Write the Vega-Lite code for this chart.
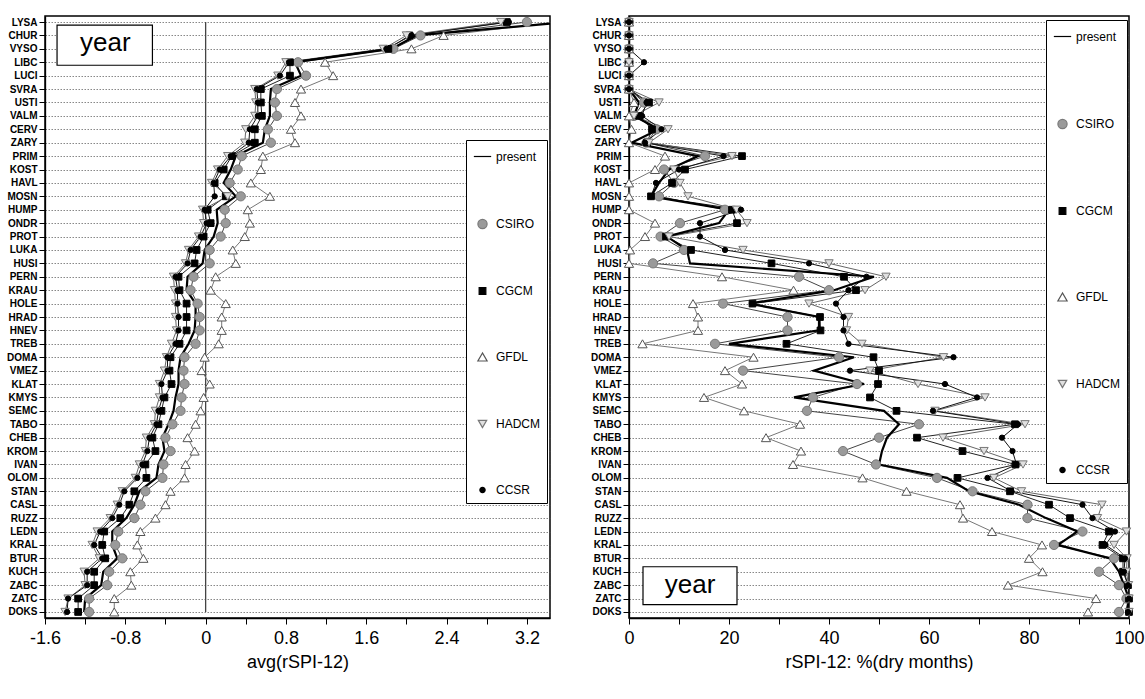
{
  "$schema": "https://vega.github.io/schema/vega-lite/v6.json",
  "padding": {"left": 5, "top": 14, "right": 5, "bottom": 5},
  "background": "white",
  "spacing": 38,
  "datasets": {
    "avg": [
      {"s":"LYSA","i":0,"present":3.6,"CSIRO":3.2,"CGCM":3.0,"GFDL":3.5,"HADCM":2.94,"CCSR":3.02},
      {"s":"CHUR","i":1,"present":2.1,"CSIRO":2.14,"CGCM":2.03,"GFDL":2.37,"HADCM":2.0,"CCSR":2.05},
      {"s":"VYSO","i":2,"present":1.85,"CSIRO":1.87,"CGCM":1.82,"GFDL":2.05,"HADCM":1.77,"CCSR":1.8},
      {"s":"LIBC","i":3,"present":0.89,"CSIRO":0.92,"CGCM":0.84,"GFDL":1.19,"HADCM":0.8,"CCSR":0.83},
      {"s":"LUCI","i":4,"present":0.95,"CSIRO":1.0,"CGCM":0.84,"GFDL":1.27,"HADCM":0.72,"CCSR":0.74},
      {"s":"SVRA","i":5,"present":0.65,"CSIRO":0.71,"CGCM":0.55,"GFDL":0.95,"HADCM":0.49,"CCSR":0.51},
      {"s":"USTI","i":6,"present":0.64,"CSIRO":0.69,"CGCM":0.55,"GFDL":0.89,"HADCM":0.5,"CCSR":0.52},
      {"s":"VALM","i":7,"present":0.64,"CSIRO":0.71,"CGCM":0.56,"GFDL":0.95,"HADCM":0.49,"CCSR":0.52},
      {"s":"CERV","i":8,"present":0.59,"CSIRO":0.62,"CGCM":0.49,"GFDL":0.85,"HADCM":0.4,"CCSR":0.44},
      {"s":"ZARY","i":9,"present":0.57,"CSIRO":0.65,"CGCM":0.49,"GFDL":0.89,"HADCM":0.39,"CCSR":0.43},
      {"s":"PRIM","i":10,"present":0.30,"CSIRO":0.36,"CGCM":0.26,"GFDL":0.57,"HADCM":0.22,"CCSR":0.25},
      {"s":"KOST","i":11,"present":0.25,"CSIRO":0.32,"CGCM":0.18,"GFDL":0.55,"HADCM":0.12,"CCSR":0.14},
      {"s":"HAVL","i":12,"present":0.18,"CSIRO":0.24,"CGCM":0.09,"GFDL":0.45,"HADCM":0.06,"CCSR":0.08},
      {"s":"MOSN","i":13,"present":0.30,"CSIRO":0.35,"CGCM":0.20,"GFDL":0.64,"HADCM":0.22,"CCSR":0.09},
      {"s":"HUMP","i":14,"present":0.11,"CSIRO":0.19,"CGCM":0.02,"GFDL":0.42,"HADCM":-0.03,"CCSR":-0.01},
      {"s":"ONDR","i":15,"present":0.12,"CSIRO":0.20,"CGCM":0.05,"GFDL":0.44,"HADCM":-0.02,"CCSR":0.01},
      {"s":"PROT","i":16,"present":0.08,"CSIRO":0.15,"CGCM":-0.02,"GFDL":0.39,"HADCM":-0.07,"CCSR":-0.05},
      {"s":"LUKA","i":17,"present":-0.01,"CSIRO":0.04,"CGCM":-0.09,"GFDL":0.27,"HADCM":-0.17,"CCSR":-0.15},
      {"s":"HUSI","i":18,"present":-0.03,"CSIRO":0.04,"CGCM":-0.11,"GFDL":0.30,"HADCM":-0.2,"CCSR":-0.18},
      {"s":"PERN","i":19,"present":-0.18,"CSIRO":-0.12,"CGCM":-0.27,"GFDL":0.10,"HADCM":-0.32,"CCSR":-0.30},
      {"s":"KRAU","i":20,"present":-0.19,"CSIRO":-0.15,"CGCM":-0.26,"GFDL":0.05,"HADCM":-0.31,"CCSR":-0.28},
      {"s":"HOLE","i":21,"present":-0.10,"CSIRO":-0.08,"CGCM":-0.19,"GFDL":0.20,"HADCM":-0.30,"CCSR":-0.28},
      {"s":"HRAD","i":22,"present":-0.10,"CSIRO":-0.06,"CGCM":-0.19,"GFDL":0.16,"HADCM":-0.30,"CCSR":-0.27},
      {"s":"HNEV","i":23,"present":-0.11,"CSIRO":-0.06,"CGCM":-0.19,"GFDL":0.16,"HADCM":-0.29,"CCSR":-0.27},
      {"s":"TREB","i":24,"present":-0.17,"CSIRO":-0.10,"CGCM":-0.26,"GFDL":0.13,"HADCM":-0.34,"CCSR":-0.30},
      {"s":"DOMA","i":25,"present":-0.25,"CSIRO":-0.21,"CGCM":-0.35,"GFDL":-0.01,"HADCM":-0.39,"CCSR":-0.38},
      {"s":"VMEZ","i":26,"present":-0.27,"CSIRO":-0.22,"CGCM":-0.36,"GFDL":-0.04,"HADCM":-0.41,"CCSR":-0.38},
      {"s":"KLAT","i":27,"present":-0.27,"CSIRO":-0.21,"CGCM":-0.34,"GFDL":0.04,"HADCM":-0.46,"CCSR":-0.44},
      {"s":"KMYS","i":28,"present":-0.30,"CSIRO":-0.24,"CGCM":-0.41,"GFDL":-0.02,"HADCM":-0.46,"CCSR":-0.43},
      {"s":"SEMC","i":29,"present":-0.32,"CSIRO":-0.25,"CGCM":-0.44,"GFDL":-0.05,"HADCM":-0.50,"CCSR":-0.47},
      {"s":"TABO","i":30,"present":-0.37,"CSIRO":-0.33,"CGCM":-0.47,"GFDL":-0.10,"HADCM":-0.51,"CCSR":-0.49},
      {"s":"CHEB","i":31,"present":-0.43,"CSIRO":-0.40,"CGCM":-0.53,"GFDL":-0.18,"HADCM":-0.59,"CCSR":-0.56},
      {"s":"KROM","i":32,"present":-0.41,"CSIRO":-0.35,"CGCM":-0.50,"GFDL":-0.11,"HADCM":-0.60,"CCSR":-0.58},
      {"s":"IVAN","i":33,"present":-0.47,"CSIRO":-0.42,"CGCM":-0.60,"GFDL":-0.20,"HADCM":-0.66,"CCSR":-0.63},
      {"s":"OLOM","i":34,"present":-0.49,"CSIRO":-0.43,"CGCM":-0.59,"GFDL":-0.21,"HADCM":-0.70,"CCSR":-0.68},
      {"s":"STAN","i":35,"present":-0.66,"CSIRO":-0.60,"CGCM":-0.71,"GFDL":-0.35,"HADCM":-0.83,"CCSR":-0.81},
      {"s":"CASL","i":36,"present":-0.71,"CSIRO":-0.65,"CGCM":-0.76,"GFDL":-0.40,"HADCM":-0.88,"CCSR":-0.86},
      {"s":"RUZZ","i":37,"present":-0.79,"CSIRO":-0.71,"CGCM":-0.85,"GFDL":-0.50,"HADCM":-0.95,"CCSR":-0.93},
      {"s":"LEDN","i":38,"present":-0.93,"CSIRO":-0.87,"CGCM":-1.01,"GFDL":-0.65,"HADCM":-1.08,"CCSR":-1.05},
      {"s":"KRAL","i":39,"present":-0.93,"CSIRO":-0.90,"CGCM":-1.03,"GFDL":-0.68,"HADCM":-1.13,"CCSR":-1.11},
      {"s":"BTUR","i":40,"present":-0.88,"CSIRO":-0.83,"CGCM":-1.00,"GFDL":-0.62,"HADCM":-1.06,"CCSR":-1.03},
      {"s":"KUCH","i":41,"present":-1.02,"CSIRO":-0.96,"CGCM":-1.11,"GFDL":-0.75,"HADCM":-1.21,"CCSR":-1.18},
      {"s":"ZABC","i":42,"present":-1.04,"CSIRO":-0.98,"CGCM":-1.11,"GFDL":-0.74,"HADCM":-1.20,"CCSR":-1.18},
      {"s":"ZATC","i":43,"present":-1.20,"CSIRO":-1.16,"CGCM":-1.27,"GFDL":-0.91,"HADCM":-1.37,"CCSR":-1.37},
      {"s":"DOKS","i":44,"present":-1.21,"CSIRO":-1.16,"CGCM":-1.27,"GFDL":-0.91,"HADCM":-1.40,"CCSR":-1.38}
    ],
    "dry": [
      {"s":"LYSA","i":0,"present":0,"CSIRO":0,"CGCM":0,"GFDL":0,"HADCM":0,"CCSR":0},
      {"s":"CHUR","i":1,"present":0,"CSIRO":0,"CGCM":0,"GFDL":0,"HADCM":0,"CCSR":0},
      {"s":"VYSO","i":2,"present":0,"CSIRO":0,"CGCM":0,"GFDL":0,"HADCM":0,"CCSR":0},
      {"s":"LIBC","i":3,"present":0,"CSIRO":0,"CGCM":0,"GFDL":0,"HADCM":0,"CCSR":3},
      {"s":"LUCI","i":4,"present":0,"CSIRO":0,"CGCM":0,"GFDL":0,"HADCM":0,"CCSR":0},
      {"s":"SVRA","i":5,"present":0,"CSIRO":0,"CGCM":0,"GFDL":0,"HADCM":0,"CCSR":0},
      {"s":"USTI","i":6,"present":2,"CSIRO":3,"CGCM":4,"GFDL":1,"HADCM":6,"CCSR":3.5},
      {"s":"VALM","i":7,"present":1,"CSIRO":1,"CGCM":2,"GFDL":0,"HADCM":1,"CCSR":2.6},
      {"s":"CERV","i":8,"present":6,"CSIRO":5.5,"CGCM":4.6,"GFDL":0.5,"HADCM":7.8,"CCSR":6.5},
      {"s":"ZARY","i":9,"present":0.5,"CSIRO":3.5,"CGCM":3.6,"GFDL":0,"HADCM":4,"CCSR":3.2},
      {"s":"PRIM","i":10,"present":13.8,"CSIRO":15.2,"CGCM":22.6,"GFDL":7.2,"HADCM":20.6,"CCSR":18.9},
      {"s":"KOST","i":11,"present":8,"CSIRO":7,"CGCM":11.2,"GFDL":5.2,"HADCM":9,"CCSR":10},
      {"s":"HAVL","i":12,"present":6,"CSIRO":9,"CGCM":8.6,"GFDL":0,"HADCM":10.2,"CCSR":5.4},
      {"s":"MOSN","i":13,"present":4.4,"CSIRO":6,"CGCM":4.4,"GFDL":0,"HADCM":11.8,"CCSR":4.4},
      {"s":"HUMP","i":14,"present":20,"CSIRO":19.2,"CGCM":20.6,"GFDL":0,"HADCM":21.5,"CCSR":22.4},
      {"s":"ONDR","i":15,"present":18,"CSIRO":10.2,"CGCM":21.6,"GFDL":5.2,"HADCM":23.6,"CCSR":14.2},
      {"s":"PROT","i":16,"present":7.6,"CSIRO":6.3,"CGCM":7.4,"GFDL":3.2,"HADCM":8,"CCSR":14.2},
      {"s":"LUKA","i":17,"present":11.6,"CSIRO":11,"CGCM":12.4,"GFDL":0.2,"HADCM":22.8,"CCSR":19.2},
      {"s":"HUSI","i":18,"present":12.2,"CSIRO":4.8,"CGCM":28.5,"GFDL":0,"HADCM":40,"CCSR":36},
      {"s":"PERN","i":19,"present":49,"CSIRO":34,"CGCM":43,"GFDL":18.6,"HADCM":51.4,"CCSR":47.5},
      {"s":"KRAU","i":20,"present":41,"CSIRO":40,"CGCM":45.4,"GFDL":32.9,"HADCM":47.2,"CCSR":43.9},
      {"s":"HOLE","i":21,"present":24,"CSIRO":18.8,"CGCM":24.7,"GFDL":12.8,"HADCM":36,"CCSR":41.4},
      {"s":"HRAD","i":22,"present":38,"CSIRO":31.7,"CGCM":38.2,"GFDL":13.8,"HADCM":43.9,"CCSR":42.9},
      {"s":"HNEV","i":23,"present":38,"CSIRO":31.7,"CGCM":38.3,"GFDL":13.8,"HADCM":43.5,"CCSR":42.9},
      {"s":"TREB","i":24,"present":20,"CSIRO":17.2,"CGCM":31.5,"GFDL":2.7,"HADCM":46.6,"CCSR":43.9},
      {"s":"DOMA","i":25,"present":45,"CSIRO":42,"CGCM":48.9,"GFDL":24.9,"HADCM":62.9,"CCSR":64.9},
      {"s":"VMEZ","i":26,"present":37,"CSIRO":22.8,"CGCM":50,"GFDL":19.2,"HADCM":48.2,"CCSR":44.2},
      {"s":"KLAT","i":27,"present":47,"CSIRO":45.6,"CGCM":49.8,"GFDL":22.6,"HADCM":57.8,"CCSR":63.2},
      {"s":"KMYS","i":28,"present":33,"CSIRO":36.8,"CGCM":48.2,"GFDL":15,"HADCM":71.2,"CCSR":69.6},
      {"s":"SEMC","i":29,"present":51,"CSIRO":35.6,"CGCM":53.5,"GFDL":23,"HADCM":61.2,"CCSR":60.8},
      {"s":"TABO","i":30,"present":54,"CSIRO":58,"CGCM":77.2,"GFDL":34.2,"HADCM":79.2,"CCSR":77.8},
      {"s":"CHEB","i":31,"present":51.6,"CSIRO":50,"CGCM":57.6,"GFDL":27.4,"HADCM":62.8,"CCSR":74.6},
      {"s":"KROM","i":32,"present":50.6,"CSIRO":42.8,"CGCM":66.7,"GFDL":34.4,"HADCM":71,"CCSR":76.7},
      {"s":"IVAN","i":33,"present":50,"CSIRO":49.4,"CGCM":77.3,"GFDL":32.8,"HADCM":78.8,"CCSR":77.5},
      {"s":"OLOM","i":34,"present":63.6,"CSIRO":61.6,"CGCM":65.7,"GFDL":46.7,"HADCM":73,"CCSR":71.7},
      {"s":"STAN","i":35,"present":68,"CSIRO":68.7,"CGCM":76.2,"GFDL":55.5,"HADCM":78.5,"CCSR":76.5},
      {"s":"CASL","i":36,"present":78,"CSIRO":79.7,"CGCM":84,"GFDL":66.2,"HADCM":94.6,"CCSR":90.7},
      {"s":"RUZZ","i":37,"present":83.4,"CSIRO":79.7,"CGCM":88.2,"GFDL":66.8,"HADCM":93.7,"CCSR":92.7},
      {"s":"LEDN","i":38,"present":89.7,"CSIRO":90.7,"CGCM":96,"GFDL":72.6,"HADCM":99.5,"CCSR":97.2},
      {"s":"KRAL","i":39,"present":85.8,"CSIRO":85,"CGCM":94.7,"GFDL":82.6,"HADCM":97,"CCSR":95.3},
      {"s":"BTUR","i":40,"present":96.2,"CSIRO":97,"CGCM":98.8,"GFDL":80,"HADCM":99.6,"CCSR":99.2},
      {"s":"KUCH","i":41,"present":98,"CSIRO":94,"CGCM":98.8,"GFDL":82.7,"HADCM":99.5,"CCSR":99},
      {"s":"ZABC","i":42,"present":99,"CSIRO":98,"CGCM":99.8,"GFDL":75.8,"HADCM":99.9,"CCSR":99.8},
      {"s":"ZATC","i":43,"present":100,"CSIRO":99.5,"CGCM":100,"GFDL":93.4,"HADCM":100,"CCSR":100},
      {"s":"DOKS","i":44,"present":99.5,"CSIRO":98,"CGCM":100,"GFDL":91.8,"HADCM":100,"CCSR":99.8}
    ]
  },
  "hconcat": [
    {
      "width": 505,
      "height": 602,
      "layer": [
        {
          "data": {"values": [{"x": 0, "y1": "LYSA", "y2": "DOKS"}]},
          "mark": {"type": "rule", "color": "#444", "strokeWidth": 1.3},
          "encoding": {
            "x": {"field": "x", "type": "quantitative"},
            "y": {"field": "y1", "type": "nominal"},
            "y2": {"field": "y2"}
          }
        },
        {
          "data": {"name": "avg"},
          "transform": [
            {"fold": ["present","CSIRO","CGCM","GFDL","HADCM","CCSR"], "as": ["m","v"]},
            {"filter": "datum.m != 'present'"}
          ],
          "mark": {"type": "line", "strokeWidth": 1, "clip": true},
          "encoding": {
            "x": {"field": "v", "type": "quantitative"},
            "y": {"field": "s", "type": "nominal"},
            "detail": {"field": "m"},
            "order": {"field": "i", "type": "quantitative"},
            "color": {"field": "m", "type": "nominal", "legend": null,
              "scale": {"domain": ["CSIRO","CGCM","GFDL","HADCM","CCSR"], "range": ["#444","#222","#777","#666","#111"]}}
          }
        },
        {
          "data": {"name": "avg"},
          "transform": [
            {"fold": ["present"], "as": ["m","v"]}
          ],
          "mark": {"type": "line", "strokeWidth": 2.2, "color": "black", "clip": true},
          "encoding": {
            "x": {"field": "v", "type": "quantitative"},
            "y": {"field": "s", "type": "nominal"},
            "order": {"field": "i", "type": "quantitative"}
          }
        },
        {
          "data": {"name": "avg"},
          "transform": [
            {"fold": ["present","CSIRO","CGCM","GFDL","HADCM","CCSR"], "as": ["m","v"]},
            {"filter": "datum.m != 'present'"}
          ],
          "mark": {"type": "point", "filled": true, "strokeWidth": 1, "opacity": 1, "clip": true},
          "encoding": {
            "x": {"field": "v", "type": "quantitative",
              "scale": {"domain": [-1.6, 3.43], "nice": false, "zero": false},
              "axis": {"values": [-1.6,-1.2,-0.8,-0.4,0,0.4,0.8,1.2,1.6,2.0,2.4,2.8,3.2],
                "format": ".1~f",
                "labelExpr": "abs(round(datum.value*10)) % 8 == 0 ? replace(datum.label, '−', '-') : ''",
                "title": "avg(rSPI-12)"}},
            "y": {"field": "s", "type": "nominal",
              "scale": {"type": "point", "padding": 0.45, "domain": ["LYSA","CHUR","VYSO","LIBC","LUCI","SVRA","USTI","VALM","CERV","ZARY","PRIM","KOST","HAVL","MOSN","HUMP","ONDR","PROT","LUKA","HUSI","PERN","KRAU","HOLE","HRAD","HNEV","TREB","DOMA","VMEZ","KLAT","KMYS","SEMC","TABO","CHEB","KROM","IVAN","OLOM","STAN","CASL","RUZZ","LEDN","KRAL","BTUR","KUCH","ZABC","ZATC","DOKS"]},
              "axis": {"title": null}},
            "shape": {"field": "m", "type": "nominal",
              "scale": {"domain": ["present","CSIRO","CGCM","GFDL","HADCM","CCSR"], "range": ["stroke","circle","square","triangle-up","triangle-down","circle"]},
              "legend": {"title": null, "legendX": 421, "legendY": 124, "rowPadding": 53}},
            "fill": {"field": "m", "type": "nominal",
              "scale": {"domain": ["present","CSIRO","CGCM","GFDL","HADCM","CCSR"], "range": ["black","#9a9a9a","black","white","#e0e0e0","black"]},
              "legend": {"title": null}},
            "stroke": {"field": "m", "type": "nominal",
              "scale": {"domain": ["present","CSIRO","CGCM","GFDL","HADCM","CCSR"], "range": ["black","#7a7a7a","black","#555","#777","black"]},
              "legend": {"title": null}},
            "size": {"field": "m", "type": "nominal",
              "scale": {"type": "ordinal", "domain": ["present","CSIRO","CGCM","GFDL","HADCM","CCSR"], "range": [300,85,45,85,70,28]},
              "legend": {"title": null}}
          }
        },
        {
          "data": {"values": [{"x1": -1.48, "x2": -0.53, "y1": "LYSA", "y2": "LIBC"}]},
          "mark": {"type": "rect", "fill": "white", "stroke": "black", "strokeWidth": 1.2, "yOffset": 3, "y2Offset": 3},
          "encoding": {
            "x": {"field": "x1", "type": "quantitative"},
            "x2": {"field": "x2"},
            "y": {"field": "y1", "type": "nominal"},
            "y2": {"field": "y2"}
          }
        },
        {
          "data": {"values": [{"x": -1.0, "y": "CHUR", "t": "year"}]},
          "mark": {"type": "text", "fontSize": 26, "font": "Liberation Sans", "dy": 8, "color": "black"},
          "encoding": {
            "x": {"field": "x", "type": "quantitative"},
            "y": {"field": "y", "type": "nominal"},
            "text": {"field": "t"}
          }
        }
      ]
    },
    {
      "width": 500,
      "height": 602,
      "layer": [
        {
          "data": {"name": "dry"},
          "transform": [
            {"fold": ["present","CSIRO","CGCM","GFDL","HADCM","CCSR"], "as": ["m","v"]},
            {"filter": "datum.m != 'present'"}
          ],
          "mark": {"type": "line", "strokeWidth": 1, "clip": true},
          "encoding": {
            "x": {"field": "v", "type": "quantitative"},
            "y": {"field": "s", "type": "nominal"},
            "detail": {"field": "m"},
            "order": {"field": "i", "type": "quantitative"},
            "color": {"field": "m", "type": "nominal", "legend": null,
              "scale": {"domain": ["CSIRO","CGCM","GFDL","HADCM","CCSR"], "range": ["#444","#222","#777","#666","#111"]}}
          }
        },
        {
          "data": {"name": "dry"},
          "transform": [
            {"fold": ["present"], "as": ["m","v"]}
          ],
          "mark": {"type": "line", "strokeWidth": 2.2, "color": "black", "clip": true},
          "encoding": {
            "x": {"field": "v", "type": "quantitative"},
            "y": {"field": "s", "type": "nominal"},
            "order": {"field": "i", "type": "quantitative"}
          }
        },
        {
          "data": {"name": "dry"},
          "transform": [
            {"fold": ["present","CSIRO","CGCM","GFDL","HADCM","CCSR"], "as": ["m","v"]},
            {"filter": "datum.m != 'present'"}
          ],
          "mark": {"type": "point", "filled": true, "strokeWidth": 1, "opacity": 1},
          "encoding": {
            "x": {"field": "v", "type": "quantitative",
              "scale": {"domain": [0, 100], "nice": false},
              "axis": {"values": [0,10,20,30,40,50,60,70,80,90,100],
                "labelExpr": "datum.value % 20 == 0 ? datum.label : ''",
                "title": "rSPI-12: %(dry months)"}},
            "y": {"field": "s", "type": "nominal",
              "scale": {"type": "point", "padding": 0.45, "domain": ["LYSA","CHUR","VYSO","LIBC","LUCI","SVRA","USTI","VALM","CERV","ZARY","PRIM","KOST","HAVL","MOSN","HUMP","ONDR","PROT","LUKA","HUSI","PERN","KRAU","HOLE","HRAD","HNEV","TREB","DOMA","VMEZ","KLAT","KMYS","SEMC","TABO","CHEB","KROM","IVAN","OLOM","STAN","CASL","RUZZ","LEDN","KRAL","BTUR","KUCH","ZABC","ZATC","DOKS"]},
              "axis": {"title": null}},
            "shape": {"field": "m", "type": "nominal",
              "scale": {"domain": ["present","CSIRO","CGCM","GFDL","HADCM","CCSR"], "range": ["stroke","circle","square","triangle-up","triangle-down","circle"]},
              "legend": {"title": null, "legendX": 417, "legendY": 4, "rowPadding": 73}},
            "fill": {"field": "m", "type": "nominal",
              "scale": {"domain": ["present","CSIRO","CGCM","GFDL","HADCM","CCSR"], "range": ["black","#9a9a9a","black","white","#e0e0e0","black"]},
              "legend": {"title": null}},
            "stroke": {"field": "m", "type": "nominal",
              "scale": {"domain": ["present","CSIRO","CGCM","GFDL","HADCM","CCSR"], "range": ["black","#7a7a7a","black","#555","#777","black"]},
              "legend": {"title": null}},
            "size": {"field": "m", "type": "nominal",
              "scale": {"type": "ordinal", "domain": ["present","CSIRO","CGCM","GFDL","HADCM","CCSR"], "range": [300,85,45,85,70,28]},
              "legend": {"title": null}}
          }
        },
        {
          "data": {"values": [{"x1": 2.8, "x2": 21.6, "y1": "KUCH", "y2": "ZATC"}]},
          "mark": {"type": "rect", "fill": "white", "stroke": "black", "strokeWidth": 1.2, "yOffset": -5, "y2Offset": 6},
          "encoding": {
            "x": {"field": "x1", "type": "quantitative"},
            "x2": {"field": "x2"},
            "y": {"field": "y1", "type": "nominal"},
            "y2": {"field": "y2"}
          }
        },
        {
          "data": {"values": [{"x": 12.2, "y": "ZABC", "t": "year"}]},
          "mark": {"type": "text", "fontSize": 26, "font": "Liberation Sans", "dy": 0, "color": "black"},
          "encoding": {
            "x": {"field": "x", "type": "quantitative"},
            "y": {"field": "y", "type": "nominal"},
            "text": {"field": "t"}
          }
        }
      ]
    }
  ],
  "resolve": {
    "scale": {"shape": "independent", "fill": "independent", "stroke": "independent", "size": "independent", "color": "independent", "x": "independent", "y": "independent"},
    "legend": {"shape": "independent", "fill": "independent", "stroke": "independent", "size": "independent"}
  },
  "config": {
    "font": "Liberation Sans",
    "view": {"stroke": "black", "strokeWidth": 1.5},
    "axis": {"domainColor": "black", "domainWidth": 1.3, "tickColor": "black", "labelColor": "black", "titleColor": "black"},
    "axisX": {"grid": false, "tickSize": 6, "labelFontSize": 18, "labelPadding": 5, "titleFontSize": 18, "titleFontWeight": "normal", "titlePadding": 6, "labelFlush": false},
    "axisY": {"grid": true, "gridColor": "#555", "gridDash": [1.5, 1.5], "gridWidth": 0.7, "tickSize": 6, "labelFontSize": 10, "labelFontWeight": "bold", "labelPadding": 2},
    "legend": {"orient": "none", "fillColor": "white", "strokeColor": "black", "padding": 7, "labelFontSize": 12, "labelColor": "black", "symbolStrokeWidth": 1.2, "labelOffset": 4}
  }
}
